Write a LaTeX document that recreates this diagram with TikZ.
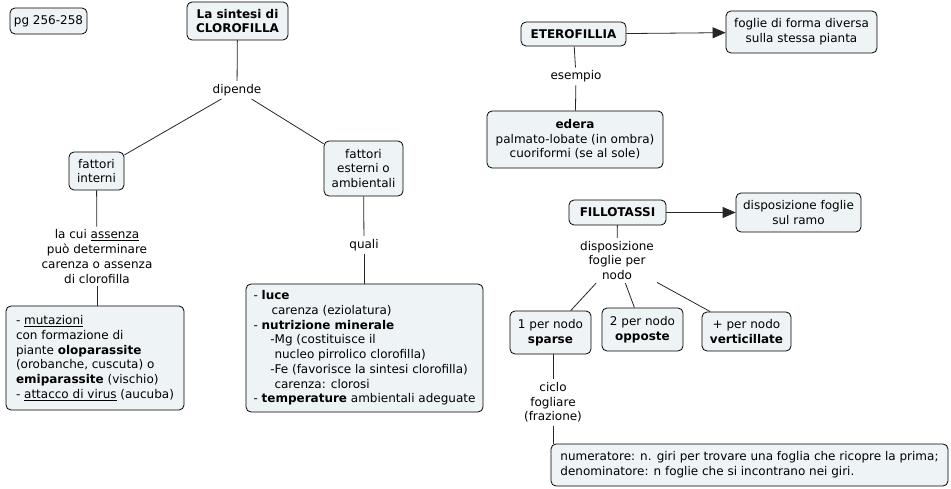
\documentclass[tikz,border=0pt]{standalone}
\usepackage{fontspec}
\setmainfont{DejaVu Sans}
\usetikzlibrary{arrows.meta}
\definecolor{boxfill}{HTML}{EEF3F6}
\tikzset{
  cbox/.style={draw=black, fill=boxfill, rounded corners=5pt, line width=0.8pt, align=center, inner sep=2pt, font=\fontsize{12}{14.7}\selectfont},
  lbl/.style={align=center, inner sep=3pt, font=\fontsize{12}{14.7}\selectfont},
  conn/.style={draw=black!85, line width=0.8pt},
  arr/.style={conn, -{Triangle[length=13pt,width=11pt]}}
}
\begin{document}
\begin{tikzpicture}[x=1pt,y=-1pt]
\useasboundingbox (0,0) rectangle (951,489);
% nodes
\node[cbox, minimum width=77pt, minimum height=26pt] (pg) at (48.5,21) {pg 256-258};
\node[cbox, minimum width=101pt, minimum height=38pt] (title) at (237.5,21) {\textbf{La sintesi di}\\\textbf{CLOROFILLA}};
\node[cbox, minimum width=55pt, minimum height=38pt] (fint) at (96.5,171) {fattori\\interni};
\node[cbox, minimum width=79pt, minimum height=55pt] (fest) at (363.5,168.5) {fattori\\esterni o\\ambientali};
\node[cbox, align=left, minimum width=178pt, minimum height=104pt] (mut) at (95,358) {- \underline{mutazioni}\\con formazione di\\piante \textbf{oloparassite}\\(orobanche, cuscuta) o\\\textbf{emiparassite} (vischio)\\- \underline{attacco di virus} (aucuba)};
\node[cbox, align=left, minimum width=237pt, minimum height=128pt] (luce) at (364.5,348) {- \textbf{luce}\\\hspace*{1.5em}carenza (eziolatura)\\- \textbf{nutrizione minerale}\\\hspace*{1.4em}-Mg (costituisce il\\\hspace*{1.75em}nucleo pirrolico clorofilla)\\\hspace*{1.4em}-Fe (favorisce la sintesi clorofilla)\\\hspace*{1.75em}carenza: clorosi\\- \textbf{temperature} ambientali adeguate};
\node[cbox, minimum width=105pt, minimum height=24pt] (etero) at (573.5,34) {\textbf{ETEROFILLIA}};
\node[cbox, minimum width=151pt, minimum height=42pt] (foglie) at (801.5,32) {foglie di forma diversa\\sulla stessa pianta};
\node[cbox, minimum width=176pt, minimum height=57pt] (edera) at (575,139.5) {\textbf{edera}\\palmato-lobate (in ombra)\\cuoriformi (se al sole)};
\node[cbox, minimum width=97pt, minimum height=25pt] (fillo) at (617.5,212.5) {\textbf{FILLOTASSI}};
\node[cbox, minimum width=125pt, minimum height=39pt] (disp) at (798.5,212.5) {disposizione foglie\\sul ramo};
\node[cbox, minimum width=81pt, minimum height=43pt] (sparse) at (550.5,332.5) {1 per nodo\\\textbf{sparse}};
\node[cbox, minimum width=81pt, minimum height=43pt] (opp) at (642.5,329.5) {2 per nodo\\\textbf{opposte}};
\node[cbox, minimum width=89pt, minimum height=39pt] (vert) at (746.5,331.5) {+ per nodo\\\textbf{verticillate}};
\node[cbox, align=left, minimum width=397pt, minimum height=42pt] (num) at (749.5,465) {numeratore: n. giri per trovare una foglia che ricopre la prima;\\denominatore: n foglie che si incontrano nei giri.};
% labels
\node[lbl] (dip) at (237,90) {dipende};
\node[lbl] (lacui) at (97,256.5) {la cui \underline{assenza}\\può determinare\\carenza o assenza\\di clorofilla};
\node[lbl] (quali) at (364,245) {quali};
\node[lbl] (esem) at (576,76.5) {esempio};
\node[lbl] (dnodo) at (617,260.5) {disposizione\\foglie per\\nodo};
\node[lbl] (ciclo) at (553,402.5) {ciclo\\fogliare\\(frazione)};
% connectors
\draw[conn] (title) -- (dip);
\draw[conn] (dip) -- (fint);
\draw[conn] (dip) -- (fest);
\draw[conn] (fint) -- (lacui);
\draw[conn] (lacui) -- (mut.north -| lacui);
\draw[conn] (fest) -- (quali);
\draw[conn] (quali) -- (luce.north -| quali);
\draw[arr] (etero) -- (foglie);
\draw[conn] (etero) -- (esem);
\draw[conn] (esem) -- (edera);
\draw[arr] (fillo) -- (disp);
\draw[conn] (fillo) -- (dnodo);
\draw[conn] (dnodo) -- (sparse);
\draw[conn] (dnodo) -- (opp);
\draw[conn] (dnodo) -- (vert);
\draw[conn] (sparse.south -| ciclo) -- (ciclo);
\draw[conn] (ciclo) -- (num.north -| ciclo);
\end{tikzpicture}
\end{document}
